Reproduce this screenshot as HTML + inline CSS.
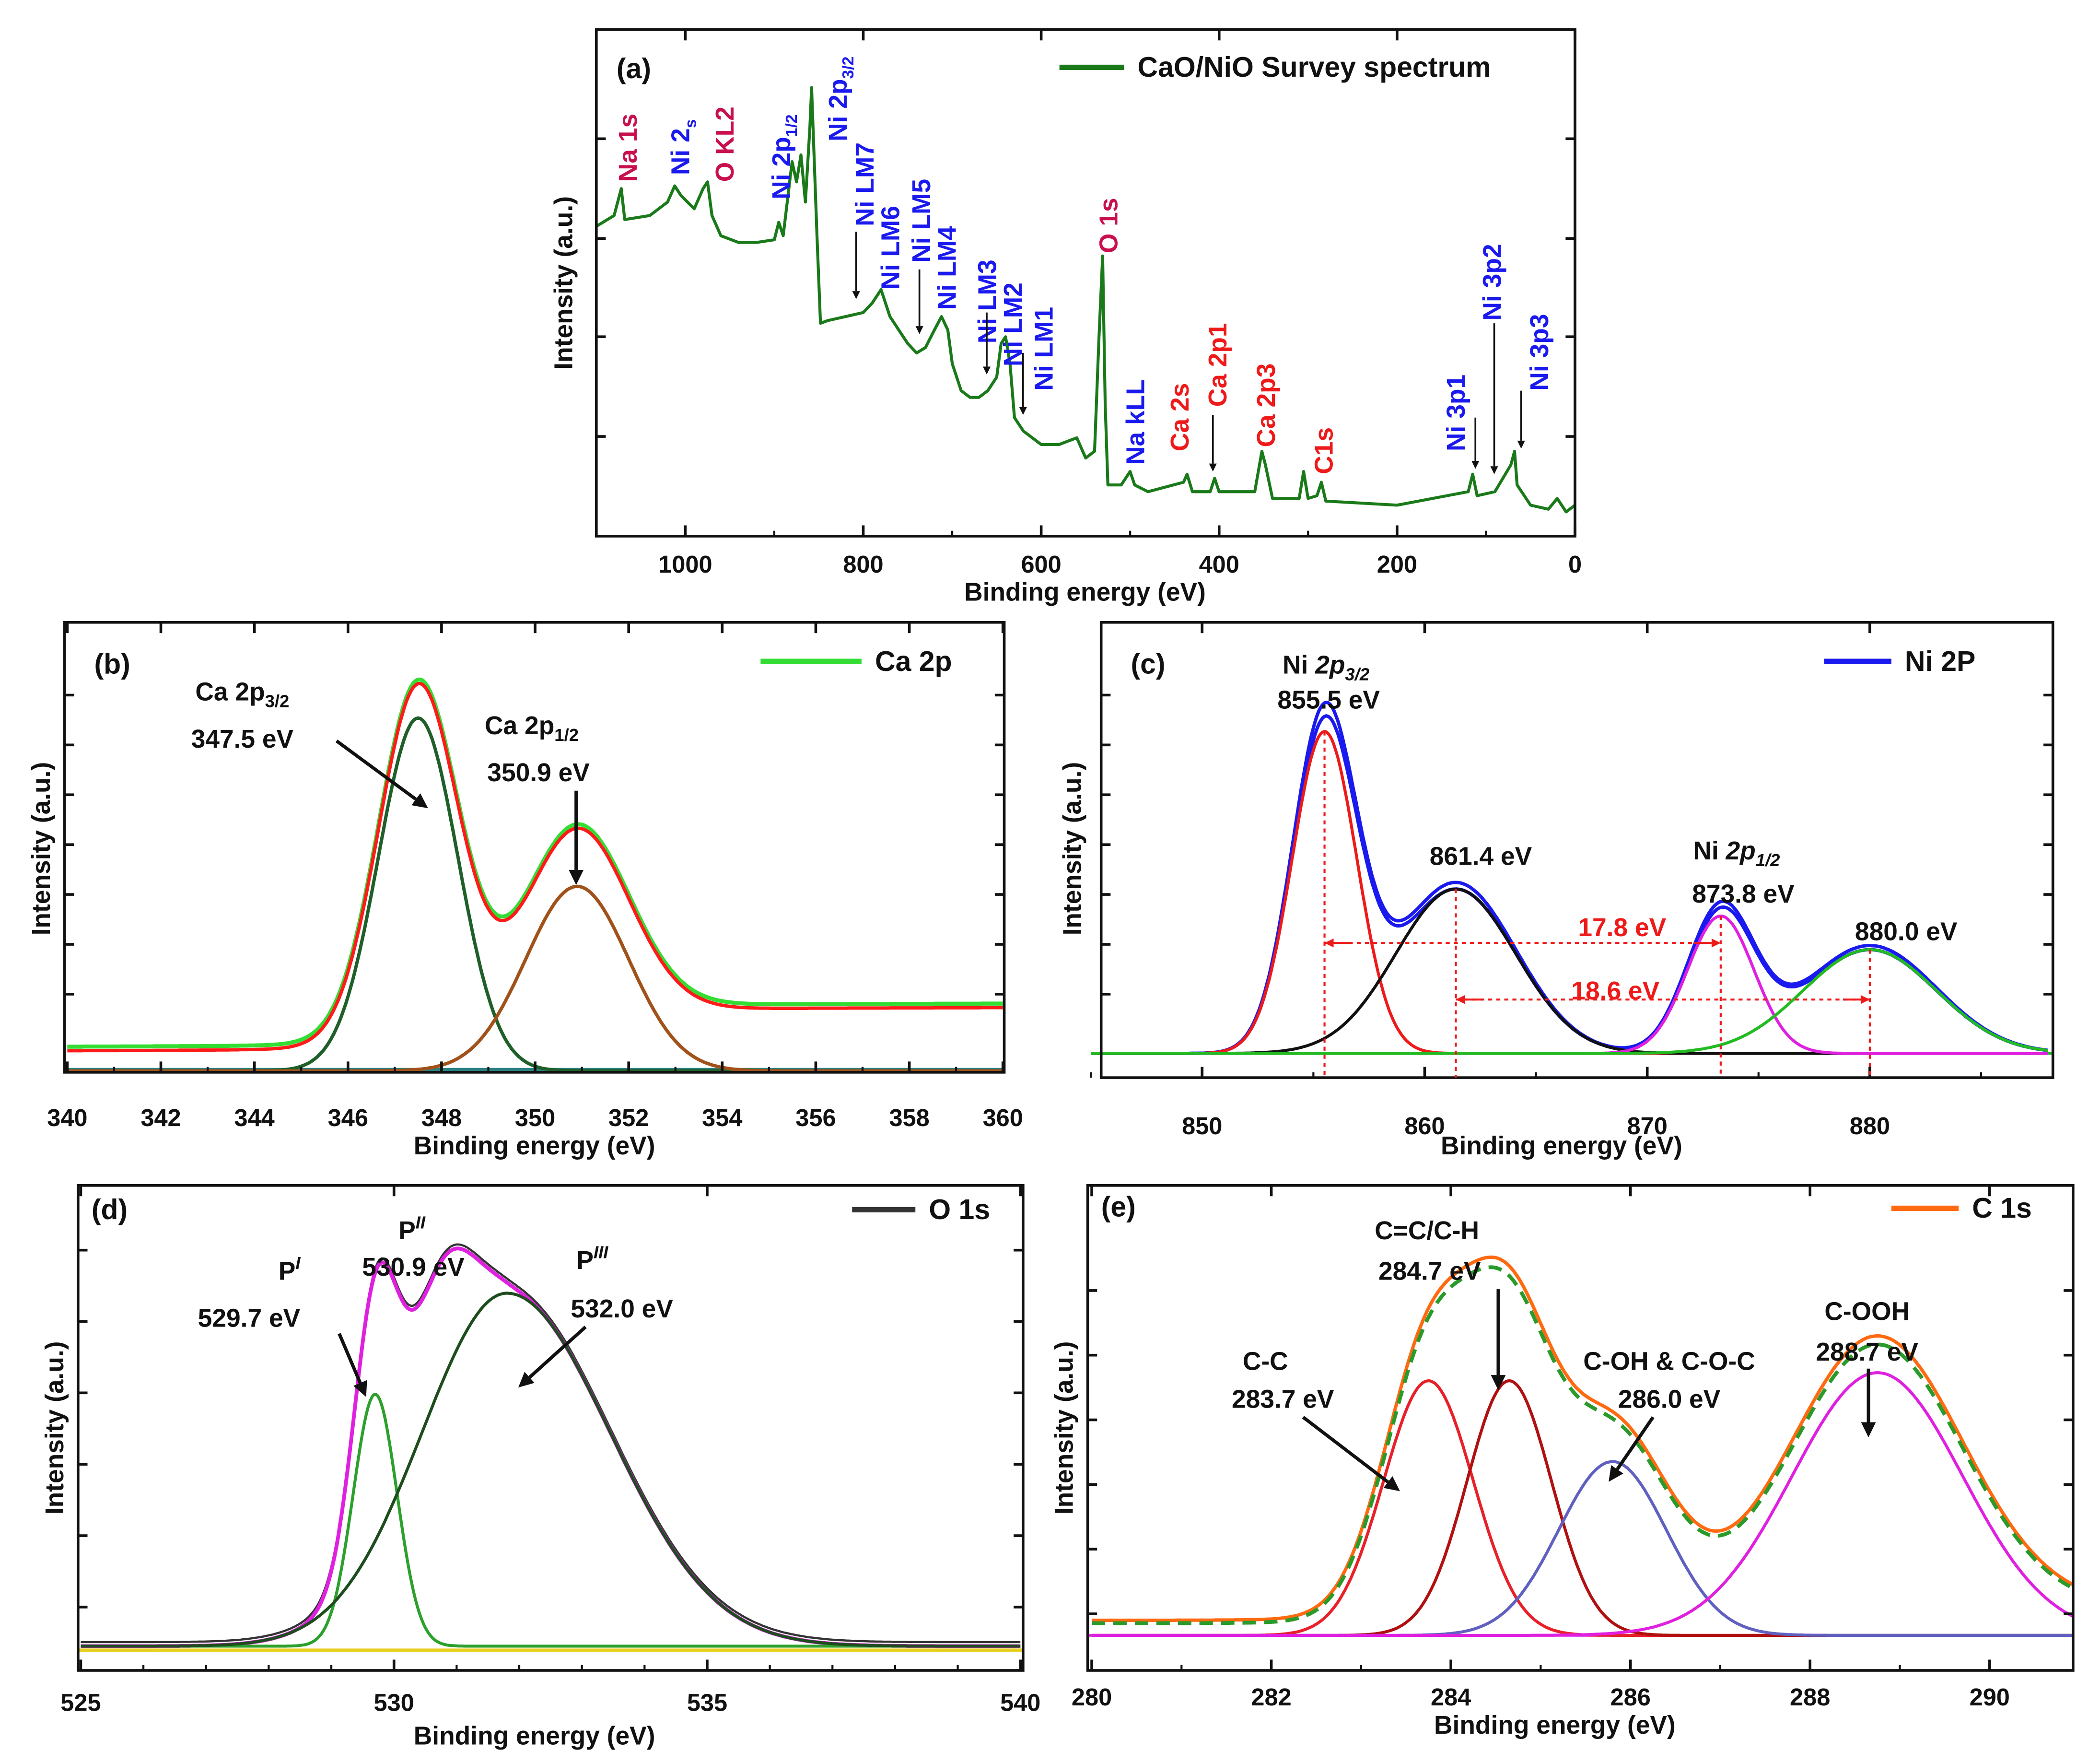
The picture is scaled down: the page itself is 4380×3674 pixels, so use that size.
<!DOCTYPE html>
<html><head><meta charset="utf-8">
<style>
html,body{margin:0;padding:0;background:#fff;}
svg{display:block;}
text{font-family:"Liberation Sans",sans-serif;font-weight:bold;}
</style></head>
<body>
<svg id="fig" width="4380" height="3674" viewBox="0 0 1560 1308" preserveAspectRatio="none" xmlns="http://www.w3.org/2000/svg">
<rect x="0" y="0" width="1560" height="1308" fill="#fff"/>
</svg>
<script>
// ---------- DATA ----------
const surveyE = [1100,1080,1072,1068,1040,1020,1012,1005,990,980,975,970,960,940,920,900,895,890,880,875,870,865,860,858,855,852,848,840,820,800,790,780,770,760,750,740,730,720,712,705,700,690,680,670,660,650,645,640,635,630,620,600,580,560,550,540,535,531,528,525,510,500,495,480,440,436,430,410,405,400,360,352,348,340,310,305,300,290,285,280,200,120,115,110,90,72,68,65,50,30,20,10,0];
const surveyI = [230,238,258,235,238,248,260,253,243,258,263,238,223,218,218,220,233,223,278,263,283,248,303,333,278,223,158,160,163,166,173,183,163,153,143,136,140,153,163,153,128,108,103,103,108,118,143,148,128,88,78,68,68,73,58,63,148,208,98,38,38,48,38,33,40,46,33,33,43,33,33,63,53,28,28,48,28,30,40,26,23,33,46,30,33,53,63,38,23,20,28,18,23];
const surveyTicks = [1000,800,600,400,200,0];

const caCenters = [347.5, 350.9];
const caHeights = [262, 137];
const caSigmas = [0.85, 1.1];
const caTicks = [340,342,344,346,348,350,352,354,356,358,360];

const niCenters = [855.5, 861.4, 873.3, 880.0];
const niHeights = [239, 122, 102, 77];
const niSigmas = [1.45, 2.7, 1.5, 3.0];
const niTicks = [850,860,870,880];

const oCenters = [529.7, 531.8];
const oHeights = [187, 262];
const oSigmas = [0.35, 1.5];
const oHiddenCenter = 530.7, oHiddenHeight = 90, oHiddenSigma = 0.5;
const oTicks = [525,530,535,540];

const cCenters = [283.75, 284.65, 285.8, 288.75];
const cHeights = [189, 189, 129, 195];
const cSigmas = [0.5, 0.47, 0.6, 0.95];
const cTicks = [280,282,284,286,288,290];

// ---------- HELPERS ----------
const NS = "http://www.w3.org/2000/svg";
const svg = document.getElementById('fig');
function el(tag, attrs, parent){
  const e = document.createElementNS(NS, tag);
  for (const k in attrs) e.setAttribute(k, attrs[k]);
  (parent||svg).appendChild(e); return e;
}
function txt(x,y,s,size,fill,name,anchor,rot){
  const t = el('text',{x:x,y:y,'font-size':size,fill:fill||'#111','text-anchor':anchor||'middle'});
  if(rot) t.setAttribute('transform','rotate(-90 '+x+' '+y+')');
  
  
  t.textContent = s; return t;
}
function gauss(E,c,h,s){return h*Math.exp(-((E-c)*(E-c))/(2*s*s));}
function makeX(x0,x1,e0,e1){return E=>x0+(E-e0)/(e1-e0)*(x1-x0);}
function pathFrom(xs,ys){let d='';for(let i=0;i<xs.length;i++)d+=(i?'L':'M')+xs[i].toFixed(1)+' '+ys[i].toFixed(1);return d;}
function line(d,color,w,name,dash){
  const p = el('path',{d:d,fill:'none',stroke:color,'stroke-width':w,'stroke-linejoin':'round'});
  if(dash) p.setAttribute('stroke-dasharray',dash);
  
  
  return p;
}
function frame(x0,y0,x1,y1,name){
  const r = el('rect',{x:x0,y:y0,width:x1-x0,height:y1-y0,fill:'none',stroke:'#111','stroke-width':2});
  
  
}
function xTicks(X,ticks,minorStep,e0,e1,y0,y1,labY,name){
  for(const t of ticks){
    el('line',{x1:X(t),x2:X(t),y1:y1,y2:y1-8,stroke:'#111','stroke-width':2});
    el('line',{x1:X(t),x2:X(t),y1:y0,y2:y0+8,stroke:'#111','stroke-width':2});
    txt(X(t),labY,String(t),18,'#111',name+'-tick-'+t);
  }
  const lo=Math.min(e0,e1),hi=Math.max(e0,e1);
  for(let v=Math.ceil(lo/minorStep)*minorStep; v<=hi; v+=minorStep){
    el('line',{x1:X(v),x2:X(v),y1:y1,y2:y1-4,stroke:'#111','stroke-width':1.5});
  }
}
function yTicks(x0,x1,ys){
  for(const y of ys){
    el('line',{x1:x0,x2:x0+7,y1:y,y2:y,stroke:'#111','stroke-width':2});
    el('line',{x1:x1,x2:x1-7,y1:y,y2:y,stroke:'#111','stroke-width':2});
  }
}
function arrow(x1,y1,x2,y2,w,name,color){
  color=color||'#111';
  const a=Math.atan2(y2-y1,x2-x1), L=w*4.5, W=w*2.2;
  const bx=x2-L*Math.cos(a), by=y2-L*Math.sin(a);
  const g=el('g',{});
  
  
  el('line',{x1:x1,y1:y1,x2:bx,y2:by,stroke:color,'stroke-width':w},g);
  el('polygon',{points:x2+','+y2+' '+(bx-W*Math.sin(a))+','+(by+W*Math.cos(a))+' '+(bx+W*Math.sin(a))+','+(by-W*Math.cos(a)),fill:color},g);
}
function legend(x1,x2,y,color,label,name,dash){
  line('M'+x1+' '+y+'L'+x2+' '+y,color,4,name+'-line',dash);
  txt(x2+10,y+7,label,21,'#111',name+'-label','start');
}
function sampled(e0,e1,n,f){const xs=[],vs=[];for(let i=0;i<=n;i++){const E=e0+(e1-e0)*i/n;xs.push(E);vs.push(f(E));}return [xs,vs];}

// ---------- PANEL A ----------
(function(){
  const x0=443,x1=1170,y0=22,y1=398;
  const X=makeX(x0,x1,1100,0), Y=v=>398-v;
  line(pathFrom(surveyE.map(X),surveyI.map(Y)),'#1a7a1a',2.2,'survey-spectrum-line');
  frame(x0,y0,x1,y1,'panel-a-frame');
  xTicks(X,surveyTicks,100,1100,0,y0,y1,425,'panel-a-x');
  yTicks(x0,x1,[103,177,250,324]);
  txt(458,58,'(a)',21,'#111','panel-a-label','start');
  legend(787,835,50,'#1a7a1a','CaO/NiO Survey spectrum','panel-a-legend');
  txt(806,446,'Binding energy (eV)',19,'#111','panel-a-x-axis-title');
  txt(425,210,'Intensity (a.u.)',19,'#111','panel-a-y-axis-title','middle',true);
  const B='#1a1aee',C='#c8104f',R='#ee1a1a';
  const labs=[[466,135,'Na 1s',C],[505,130,'Ni 2s',B],[538,135,'O KL2',C],[580,148,'Ni 2p1/2',B],[622,105,'Ni 2p3/2',B],
   [642,168,'Ni LM7',B],[661,215,'Ni LM6',B],[684,195,'Ni LM5',B],[703,230,'Ni LM4',B],[733,255,'Ni LM3',B],[752,272,'Ni LM2',B],
   [775,290,'Ni LM1',B],[823,188,'O 1s',C],[843,345,'Na kLL',B],[876,335,'Ca 2s',R],[904,302,'Ca 2p1',R],[940,332,'Ca 2p3',R],
   [983,352,'C1s',R],[1081,335,'Ni  3p1',B],[1108,238,'Ni  3p2',B],[1143,290,'Ni  3p3',B]];
  for(const l of labs){
    const x=l[0]+7,y=l[1];
    const t=txt(x,y,'',19,l[3],'peak-label-'+l[2].replace(/[^A-Za-z0-9]+/g,'-').toLowerCase(),'start',true);
    const m=l[2].match(/^(Ni 2)(p?)(1\/2|3\/2|s)$/);
    if(m){t.appendChild(document.createTextNode(m[1]+m[2]));const s=document.createElementNS(NS,'tspan');s.setAttribute('font-size','12');s.setAttribute('dy','5');s.textContent=m[3];t.appendChild(s);}
    else t.textContent=l[2];
  }
  const arrs=[[636,172,222],[683,200,248],[733,232,278],[760,262,308],[901,308,350],[1096,310,348],[1110,240,352],[1130,290,333]];
  arrs.forEach((a,i)=>arrow(a[0],a[1],a[0],a[2],1.3,'survey-arrow-'+i));
})();

// ---------- PANEL B ----------
(function(){
  const x0=48,x1=746,y0=462,y1=796;
  const X=makeX(50,745,340,360), Y=v=>795-v;
  const bg=E=>15+30/(1+Math.exp(-(E-348.5)/1.1))+0.1*(E-340);
  const comp=i=>E=>gauss(E,caCenters[i],caHeights[i],caSigmas[i]);
  const env=E=>bg(E)+caCenters.reduce((s,c,i)=>s+comp(i)(E),0);
  line('M'+x0+' '+Y(1)+'L'+x1+' '+Y(1),'#2a8080',2.5,'ca-baseline');
  let [es,vs]=sampled(340,360,400,env);
  line(pathFrom(es.map(X),vs.map(v=>Y(v+3))),'#33dd33',3,'ca-data-line');
  line(pathFrom(es.map(X),vs.map(Y)),'#ff1a1a',2.5,'ca-envelope-line');
  const cols=['#1f5f2a','#a0521a'];
  caCenters.forEach((c,i)=>{const [e2,v2]=sampled(340,360,400,comp(i));line(pathFrom(e2.map(X),v2.map(Y)),cols[i],2.5,'ca-component-'+i);});
  frame(x0,y0,x1,y1,'panel-b-frame');
  xTicks(X,caTicks,1,340,360,y0,y1,836,'panel-b-x');
  yTicks(x0,x1,[516,553,590,627,664,701,738]);
  txt(70,500,'(b)',21,'#111','panel-b-label','start');
  legend(565,640,491,'#33dd33','Ca 2p','panel-b-legend');
  txt(397,857,'Binding energy (eV)',19,'#111','panel-b-x-axis-title');
  txt(37,630,'Intensity (a.u.)',19,'#111','panel-b-y-axis-title','middle',true);
  const t1=txt(180,520,'Ca 2p',19,'#111','ca-2p32-label');const s1=el('tspan',{'font-size':13,dy:5},t1);s1.textContent='3/2';
  txt(180,555,'347.5 eV',19,'#111','ca-2p32-value');
  arrow(250,550,318,600,2.5,'ca-2p32-arrow');
  const t2=txt(395,545,'Ca 2p',19,'#111','ca-2p12-label');const s2=el('tspan',{'font-size':13,dy:5},t2);s2.textContent='1/2';
  txt(400,580,'350.9 eV',19,'#111','ca-2p12-value');
  arrow(428,587,428,657,2.5,'ca-2p12-arrow');
})();

// ---------- PANEL C ----------
(function(){
  const x0=818,x1=1525,y0=462,y1=800;
  const X=makeX(893,1389,850,880), Y=v=>782-v;
  const comp=i=>E=>gauss(E,niCenters[i],niHeights[i],niSigmas[i]);
  const env=E=>niCenters.reduce((s,c,i)=>s+comp(i)(E),0);
  let [es,vs]=sampled(845,888,500,env);
  line(pathFrom(es.map(X),vs.map(v=>Y(v*1.04))),'#1a1aee',2.5,'ni-data-line');
  line(pathFrom(es.map(X),vs.map(Y)),'#1a1aee',2.5,'ni-envelope-line');
  line('M'+x0+' '+Y(0)+'L'+x1+' '+Y(0),'#22bb22',2,'ni-baseline');
  const cols=['#ee1a1a','#111','#e020e0','#22bb22'];
  niCenters.forEach((c,i)=>{const [e2,v2]=sampled(845,888,500,comp(i));line(pathFrom(e2.map(X),v2.map(Y)),cols[i],2.2,'ni-component-'+i);});
  frame(x0,y0,x1,y1,'panel-c-frame');
  xTicks(X,niTicks,5,845,888,y0,y1,842,'panel-c-x');
  yTicks(x0,x1,[516,553,590,627,664,701,738]);
  niCenters.forEach((c,i)=>{line('M'+X(c)+' '+Y(niHeights[i])+'L'+X(c)+' '+y1,'#ee1a1a',1.5,'ni-guide-'+i,'3,3');});
  line('M'+X(855.5)+' 700L'+X(873.3)+' 700','#ee1a1a',1.5,'ni-split-1','3,3');
  line('M'+X(861.4)+' 742L'+X(880)+' 742','#ee1a1a',1.5,'ni-split-2','3,3');
  arrow(X(855.5)+20,700,X(855.5),700,1.5,'ni-split-1-arrow-l','#ee1a1a');arrow(X(873.3)-20,700,X(873.3),700,1.5,'ni-split-1-arrow-r','#ee1a1a');
  arrow(X(861.4)+20,742,X(861.4),742,1.5,'ni-split-2-arrow-l','#ee1a1a');arrow(X(880)-20,742,X(880),742,1.5,'ni-split-2-arrow-r','#ee1a1a');
  txt(1205,695,'17.8 eV',19,'#ee1a1a','ni-split-1-label');
  txt(1200,742,'18.6 eV',19,'#ee1a1a','ni-split-2-label');
  txt(840,500,'(c)',21,'#111','panel-c-label','start');
  legend(1355,1405,491,'#1a1aee','Ni 2P','panel-c-legend');
  txt(1160,857,'Binding energy (eV)',19,'#111','panel-c-x-axis-title');
  txt(803,630,'Intensity (a.u.)',19,'#111','panel-c-y-axis-title','middle',true);
  const t1=txt(985,500,'Ni ',19,'#111','ni-2p32-label');const a1=el('tspan',{'font-style':'italic'},t1);a1.textContent='2p';const s1=el('tspan',{'font-size':13,dy:5,'font-style':'italic'},t1);s1.textContent='3/2';
  txt(987,526,'855.5 eV',19,'#111','ni-2p32-value');
  txt(1100,642,'861.4 eV',19,'#111','ni-sat1-value');
  const t2=txt(1290,638,'Ni ',19,'#111','ni-2p12-label');const a2=el('tspan',{'font-style':'italic'},t2);a2.textContent='2p';const s2=el('tspan',{'font-size':13,dy:5,'font-style':'italic'},t2);s2.textContent='1/2';
  txt(1295,670,'873.8 eV',19,'#111','ni-2p12-value');
  txt(1416,698,'880.0 eV',19,'#111','ni-sat2-value');
})();

// ---------- PANEL D ----------
(function(){
  const x0=58,x1=760,y0=880,y1=1240;
  const X=makeX(60,758,525,540), Y=v=>1222-v;
  const comp=i=>E=>{const s=(i==1&&E>oCenters[1])?oSigmas[1]*1.1:oSigmas[i]*(i==1?0.9:1);return gauss(E,oCenters[i],oHeights[i],s);};
  const env=E=>comp(0)(E)+comp(1)(E)+gauss(E,oHiddenCenter,oHiddenHeight,oHiddenSigma);
  line('M'+x0+' 1225L'+x1+' 1225','#e8d020',2.5,'o-baseline');
  let [es,vs]=sampled(525,540,500,env);
  line(pathFrom(es.map(X),vs.map(v=>Y(v+3))),'#333',1.6,'o-data-line');
  line(pathFrom(es.map(X),vs.map(Y)),'#e020e0',2.8,'o-envelope-line');
  const cols=['#2ca02c','#1d4d1d'];
  oCenters.forEach((c,i)=>{const [e2,v2]=sampled(525,540,500,comp(i));line(pathFrom(e2.map(X),v2.map(Y)),cols[i],2.2,'o-component-'+i);});
  frame(x0,y0,x1,y1,'panel-d-frame');
  xTicks(X,oTicks,1,525,540,y0,y1,1270,'panel-d-x');
  yTicks(x0,x1,[928,981,1034,1087,1140,1193]);
  txt(68,905,'(d)',21,'#111','panel-d-label','start');
  legend(633,680,898,'#333','O 1s','panel-d-legend');
  txt(397,1295,'Binding energy (eV)',19,'#111','panel-d-x-axis-title');
  txt(47,1060,'Intensity (a.u.)',19,'#111','panel-d-y-axis-title','middle',true);
  const p1=txt(215,950,'P',19,'#111','o-p1-label');const q1=el('tspan',{'font-size':13,dy:-8,'font-style':'italic'},p1);q1.textContent='I';
  txt(185,985,'529.7 eV',19,'#111','o-p1-value');
  arrow(252,990,272,1037,2.5,'o-p1-arrow');
  const p2=txt(306,920,'P',19,'#111','o-p2-label');const q2=el('tspan',{'font-size':13,dy:-8,'font-style':'italic'},p2);q2.textContent='II';
  txt(307,947,'530.9 eV',19,'#111','o-p2-value');
  const p3=txt(440,942,'P',19,'#111','o-p3-label');const q3=el('tspan',{'font-size':13,dy:-8,'font-style':'italic'},p3);q3.textContent='III';
  txt(462,978,'532.0 eV',19,'#111','o-p3-value');
  arrow(435,985,385,1030,2.5,'o-p3-arrow');
})();

// ---------- PANEL E ----------
(function(){
  const x0=808,x1=1540,y0=880,y1=1240;
  const X=makeX(811,1478,280,290), Y=v=>1214-v;
  const comp=i=>E=>gauss(E,cCenters[i],cHeights[i],cSigmas[i]);
  const bg=E=>9+12/(1+Math.exp(-(E-283.5)/0.5));
  const env=E=>cCenters.reduce((s,c,i)=>s+comp(i)(E),0)+bg(E);
  let [es,vs]=sampled(280,290.93,500,env);
  line(pathFrom(es.map(X),vs.map(v=>Y(v*1.02+2))),'#ff6a10',2.5,'c-data-line');
  line(pathFrom(es.map(X),vs.map(Y)),'#2a9a2a',2.8,'c-envelope-line','10,6');
  line('M'+x0+' '+Y(0)+'L'+x1+' '+Y(0),'#e020e0',2,'c-baseline');
  const cols=['#e8202a','#b01010','#6060c0','#e020e0'];
  cCenters.forEach((c,i)=>{const [e2,v2]=sampled(280,290.93,500,comp(i));line(pathFrom(e2.map(X),v2.map(Y)),cols[i],2.2,'c-component-'+i);});
  frame(x0,y0,x1,y1,'panel-e-frame');
  xTicks(X,cTicks,1,280,290.93,y0,y1,1266,'panel-e-x');
  yTicks(x0,x1,[958,1006,1054,1102,1150,1198]);
  txt(818,903,'(e)',21,'#111','panel-e-label','start');
  legend(1405,1455,897,'#ff6a10','C 1s','panel-e-legend');
  txt(1155,1287,'Binding energy (eV)',19,'#111','panel-e-x-axis-title');
  txt(797,1060,'Intensity (a.u.)',19,'#111','panel-e-y-axis-title','middle',true);
  txt(1060,920,'C=C/C-H',19,'#111','c-cc-ch-label');
  txt(1062,950,'284.7 eV',19,'#111','c-cc-ch-value');
  arrow(1113,957,1113,1032,2.5,'c-cc-ch-arrow');
  txt(940,1017,'C-C',19,'#111','c-cc-label');
  txt(953,1045,'283.7 eV',19,'#111','c-cc-value');
  arrow(968,1052,1040,1107,2.5,'c-cc-arrow');
  txt(1240,1017,'C-OH & C-O-C',19,'#111','c-coh-label');
  txt(1240,1045,'286.0 eV',19,'#111','c-coh-value');
  arrow(1228,1052,1195,1100,2.5,'c-coh-arrow');
  txt(1387,980,'C-OOH',19,'#111','c-cooh-label');
  txt(1387,1010,'288.7 eV',19,'#111','c-cooh-value');
  arrow(1388,1016,1388,1067,2.5,'c-cooh-arrow');
})();
</script>
</body></html>
